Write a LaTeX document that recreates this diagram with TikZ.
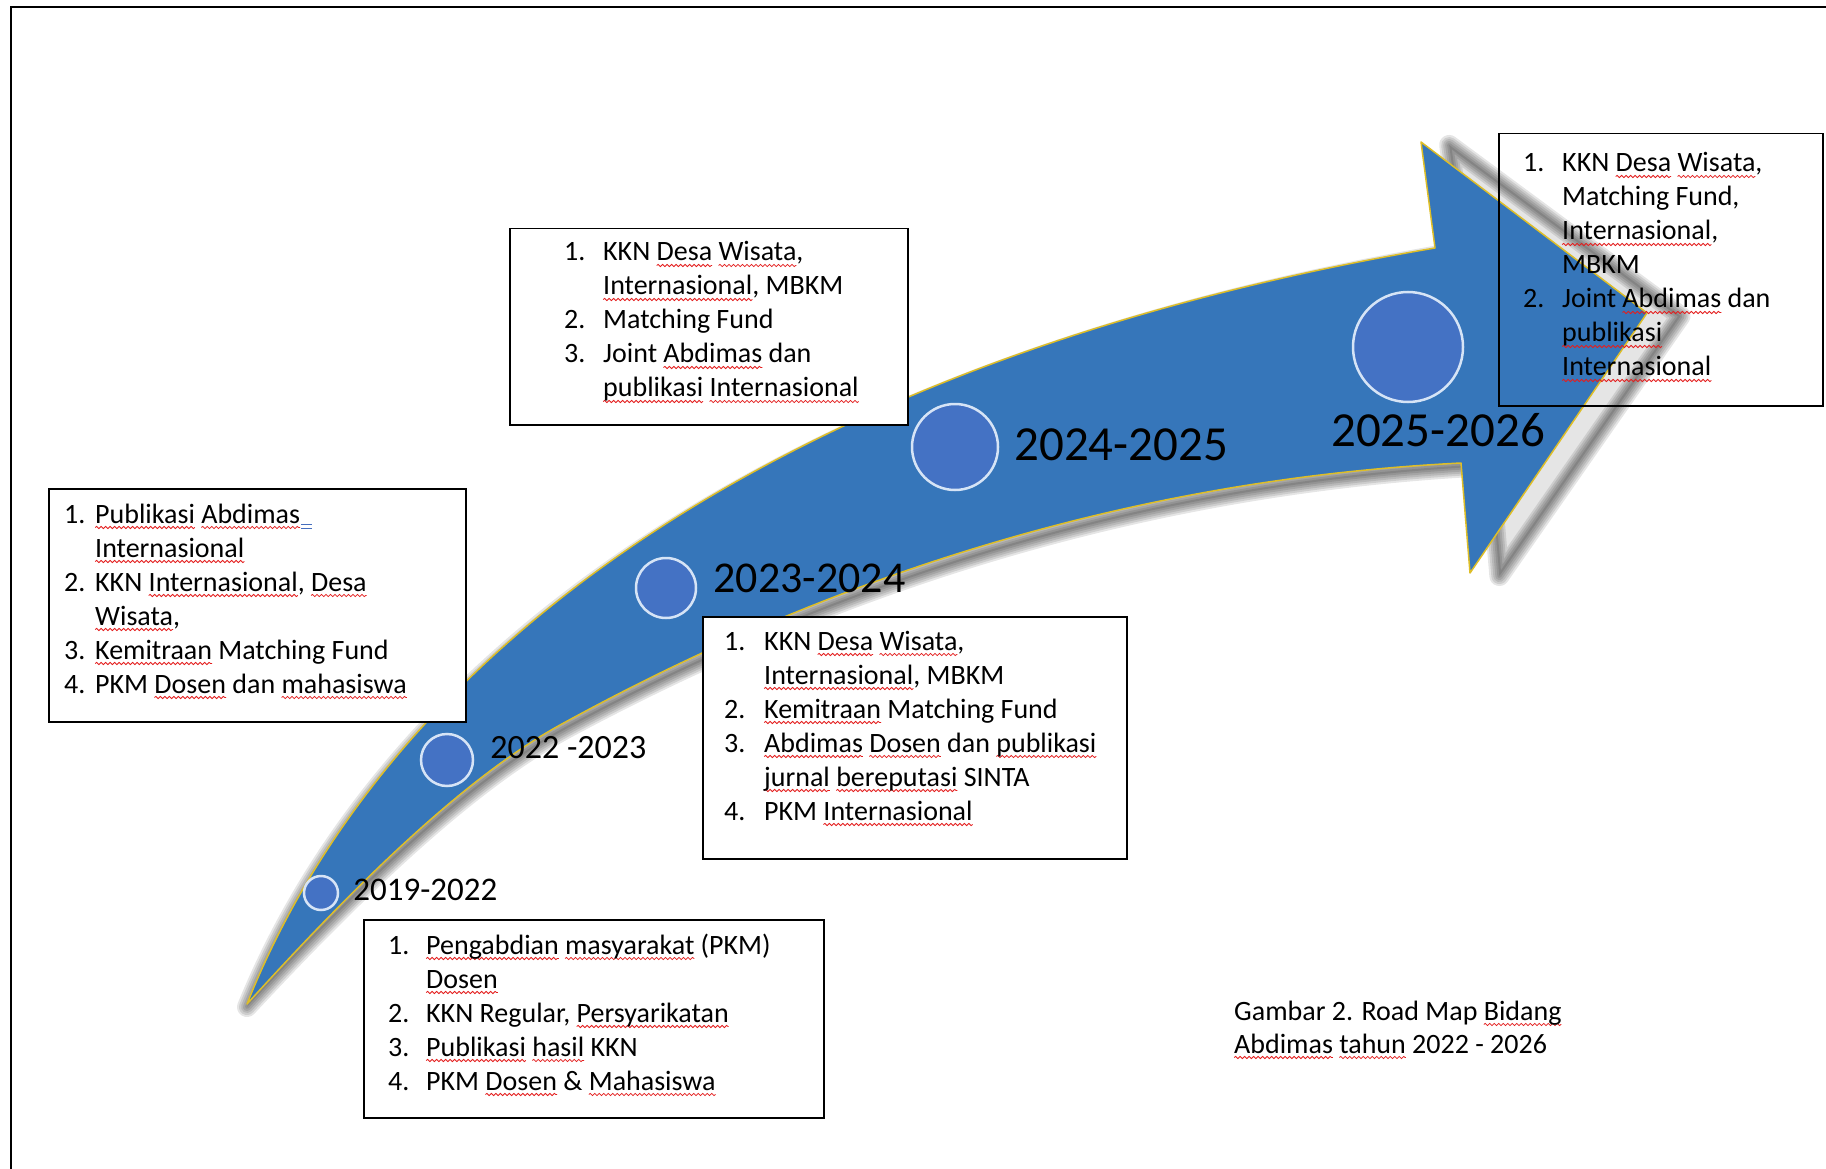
\documentclass[tikz,border=0pt]{standalone}
\usepackage{fontspec}
\setmainfont{Carlito}
\usepackage{tikz}
\usetikzlibrary{positioning, decorations.pathmorphing}

\definecolor{arrowblue}{RGB}{54,118,186}
\definecolor{dotblue}{RGB}{68,114,196}
\definecolor{dotrim}{RGB}{214,228,246}
\definecolor{rimgold}{RGB}{222,190,40}
\definecolor{squiggle}{RGB}{228,30,30}
\definecolor{gramblue}{RGB}{70,110,190}

\newsavebox{\wavybox}
\newlength{\wavylen}
\newcommand{\wavy}[1]{\sbox{\wavybox}{#1}\setlength{\wavylen}{\wd\wavybox}%
  \rlap{\tikz[overlay, baseline=0pt]\draw[squiggle, line width=0.8pt, decorate,
    decoration={snake, amplitude=1.1pt, segment length=4.5pt}] (0pt,-4.5pt) -- (\wavylen,-4.5pt);}%
  \usebox{\wavybox}}
\newcommand{\gram}{\kern1pt\textcolor{gramblue}{\rlap{\rule[-2pt]{11pt}{1.2pt}}\rule[-6pt]{11pt}{1.2pt}}}
\newcommand{\itemtab}[2]{\begin{tabular}[t]{@{}p{#1}@{}l@{}}#2\end{tabular}}
\newcommand{\arrowoutline}{(247,1004) .. controls (400,620) and (830,350) .. (1435,248)
  -- (1421,142) -- (1647,313) -- (1470,573) -- (1461,463)
  .. controls (1161,478) and (860,560) .. (560,725)
  .. controls (460,780) and (347,894) .. (247,1004) -- cycle}

\begin{document}
\begin{tikzpicture}[x=1pt, y=-1pt,
    listbox/.style={draw, fill=white, line width=1.5pt, anchor=north west, inner sep=0},
    listtext/.style={anchor=base west, inner sep=0, font=\fontsize{28}{34}\selectfont},
    dot/.style={circle, draw=dotrim, fill=dotblue, line width=2.5pt, inner sep=0},
    yearlabel/.style={inner sep=0, text=black}]
        \fill[white] (0,0) rectangle (1826,1169);
        \useasboundingbox (0,0) rectangle (1826,1169);
        \draw[line width=2.5pt] (11,1169) -- (11,7) -- (1826,7);

        % the road map arrow, its shadow widening towards the head
        \begin{scope}[shift={(247,1007)}, xscale=1.024, shift={(-247,-1004)}]
            \fill[black, opacity=0.1] \arrowoutline;
            \foreach \w in {20,16,12,8,4}
                \draw[black, opacity=0.1, line width=\w, line join=round] \arrowoutline;
        \end{scope}
        \filldraw[fill=arrowblue, draw=rimgold, line width=1.5, line join=round] \arrowoutline;

        \node[dot, minimum size=34] (c19) at (321,893) {};
        \node[dot, minimum size=52] (c22) at (447,760) {};
        \node[dot, minimum size=60] (c23) at (666,588) {};
        \node[dot, minimum size=86] (c24) at (955,447) {};
        \node[dot, minimum size=110] (c25) at (1408,347) {};

        \node[yearlabel, font=\fontsize{33}{40}\selectfont, right=14pt of c19, yshift=3pt] (y19) {2019-2022};
        \node[yearlabel, font=\fontsize{34}{40}\selectfont, right=16pt of c22, yshift=12pt] (y22) {2022 -2023};
        \node[yearlabel, font=\fontsize{44}{50}\selectfont, right=16pt of c23, yshift=10pt] (y23) {2023-2024};
        \node[yearlabel, font=\fontsize{49}{56}\selectfont, right=15pt of c24, yshift=2pt] (y24) {2024-2025};
        \node[yearlabel, font=\fontsize{49}{56}\selectfont, below=10pt of c25, xshift=30pt] (y25) {2025-2026};

        \node[listbox, minimum width=460, minimum height=198] (box19) at (363,919) {};
        \node[listtext] (list19) at ([shift={(25,35)}]box19.north west) {\itemtab{38pt}{%
            1. & \wavy{Pengabdian} \wavy{masyarakat} (PKM)\\
               & \wavy{Dosen}\\
            2. & KKN Regular, \wavy{Persyarikatan}\\
            3. & \wavy{Publikasi} \wavy{hasil} KKN\\
            4. & PKM \wavy{Dosen} \& \wavy{Mahasiswa}}};

        \node[listbox, minimum width=417, minimum height=233] (box22) at (48,488) {};
        \node[listtext] (list22) at ([shift={(16,35)}]box22.north west) {\itemtab{31pt}{%
            1. & \wavy{Publikasi} \wavy{Abdimas}\gram\\
               & \wavy{Internasional}\\
            2. & KKN \wavy{Internasional}, \wavy{Desa}\\
               & \wavy{Wisata},\\
            3. & \wavy{Kemitraan} Matching Fund\\
            4. & PKM \wavy{Dosen} dan \wavy{mahasiswa}}};

        \node[listbox, minimum width=424, minimum height=242] (box23) at (702,616) {};
        \node[listtext] (list23) at ([shift={(22,34)}]box23.north west) {\itemtab{40pt}{%
            1. & KKN \wavy{Desa} \wavy{Wisata},\\
               & \wavy{Internasional}, MBKM\\
            2. & \wavy{Kemitraan} Matching Fund\\
            3. & \wavy{Abdimas} \wavy{Dosen} dan \wavy{publikasi}\\
               & \wavy{jurnal} \wavy{bereputasi} SINTA\\
            4. & PKM \wavy{Internasional}}};

        \node[listbox, minimum width=398, minimum height=196] (box24) at (509,228) {};
        \node[listtext] (list24) at ([shift={(55,33)}]box24.north west) {\itemtab{39pt}{%
            1. & KKN \wavy{Desa} \wavy{Wisata},\\
               & \wavy{Internasional}, MBKM\\
            2. & Matching Fund\\
            3. & Joint \wavy{Abdimas} dan\\
               & \wavy{publikasi} \wavy{Internasional}}};

        \node[listbox, fill=none, minimum width=324, minimum height=272] (box25) at (1498,133) {};
        \node[listtext] (list25) at ([shift={(25,39)}]box25.north west) {\itemtab{39pt}{%
            1. & KKN \wavy{Desa} \wavy{Wisata},\\
               & Matching Fund,\\
               & \wavy{Internasional},\\
               & MBKM\\
            2. & Joint \wavy{Abdimas} dan\\
               & \wavy{publikasi}\\
               & \wavy{Internasional}}};

        \node[listtext, font=\fontsize{28}{33}\selectfont] (caption) at (1234,1020) {\begin{tabular}[t]{@{}l@{}}
            Gambar 2. Road Map \wavy{Bidang}\\
            \wavy{Abdimas} \wavy{tahun} 2022 - 2026\end{tabular}};
\end{tikzpicture}
\end{document}
